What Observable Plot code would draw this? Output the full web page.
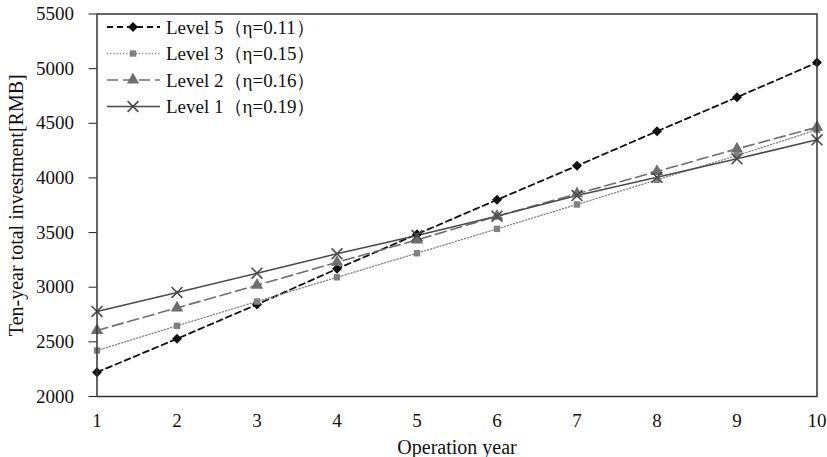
<!DOCTYPE html>
<html>
<head>
<meta charset="utf-8">
<script src="https://cdn.jsdelivr.net/npm/d3@7"></script>
<script src="https://cdn.jsdelivr.net/npm/@observablehq/plot@0.6"></script>
<style>
  html, body { margin: 0; padding: 0; background: #fff; }
  #wrap { position: relative; width: 827px; height: 457px; }
  #legend { position: absolute; left: 0; top: 0; pointer-events: none; }
  #wrap svg g[aria-label="y-axis label"] text, #wrap svg g[aria-label="x-axis label"] text { font-size: 20px; }
</style>
</head>
<body>
<div id="wrap"></div>
<script>
// ---- data ----
const years = [1, 2, 3, 4, 5, 6, 7, 8, 9, 10];
const seriesNames = ["Level 5（η=0.11）", "Level 3（η=0.15）", "Level 2（η=0.16）", "Level 1（η=0.19）"];
const level5 = [2222, 2528, 2842, 3168, 3485, 3800, 4111, 4427, 4738, 5056];
const level3 = [2421, 2647, 2869, 3091, 3311, 3534, 3757, 3983, 4205, 4440];
const level2 = [2604, 2811, 3018, 3228, 3433, 3650, 3855, 4059, 4266, 4464];
const level1 = [2778, 2952, 3128, 3306, 3473, 3650, 3839, 4006, 4175, 4349];
const yTicks = [2000, 2500, 3000, 3500, 4000, 4500, 5000, 5500];
const xTicks = years;

const seriesValues = [level5, level3, level2, level1];

// ---- styles ----
const styles = [
  {stroke: "#111111", fill: "#111111", dash: "6,4", width: 1.8, symbol: "diamond2", d3sym: d3.symbolDiamond2, r: 4.5, symStroke: false},
  {stroke: "#808080", fill: "#808080", dash: "1.2,2", width: 1.3, symbol: "square", d3sym: d3.symbolSquare, r: 3.6, symStroke: false},
  {stroke: "#6e6e6e", fill: "#6e6e6e", dash: "11,5", width: 1.6, symbol: "triangle", d3sym: d3.symbolTriangle, r: 4.6, symStroke: false},
  {stroke: "#4a4a4a", fill: "none", dash: null, width: 1.5, symbol: "times", d3sym: d3.symbolTimes, r: 5, symStroke: true}
];

const rows = [];
seriesNames.forEach((name, i) => {
  years.forEach((yr, j) => rows.push({series: name, idx: i, year: yr, value: seriesValues[i][j]}));
});

const marks = [];
seriesNames.forEach((name, i) => {
  const s = styles[i];
  const data = rows.filter(d => d.idx === i);
  marks.push(Plot.line(data, {x: "year", y: "value", stroke: s.stroke, strokeWidth: s.width, strokeDasharray: s.dash || undefined}));
});
seriesNames.forEach((name, i) => {
  const s = styles[i];
  const data = rows.filter(d => d.idx === i);
  marks.push(Plot.dot(data, s.symStroke
    ? {x: "year", y: "value", symbol: () => s.symbol, r: s.r, stroke: s.stroke, strokeWidth: 1.6, fill: "none"}
    : {x: "year", y: "value", symbol: () => s.symbol, r: s.r, fill: s.fill, stroke: "none"}));
});

const ML = 96.5, MR = 10.5, MT = 13.5, MB = 61;

const chart = Plot.plot({
  width: 827,
  height: 457,
  marginLeft: ML,
  marginRight: MR,
  marginTop: MT,
  marginBottom: MB,
  style: {fontFamily: "'Liberation Serif', 'Times New Roman', serif", fontSize: "19px", color: "#111", background: "#fff"},
  x: {domain: [1, 10]},
  y: {domain: [2000, 5500]},
  symbol: {type: "identity"},
  marks: [
    Plot.axisY({ticks: yTicks, tickSize: 8, tickPadding: 15, tickFormat: d => String(d), stroke: "#222",
      label: "Ten-year total investment[RMB]", labelAnchor: "center", labelArrow: "none", labelOffset: 88, fontSize: 19}),
    Plot.axisX({ticks: xTicks, tickSize: 0, tickPadding: 17, tickFormat: d => String(d),
      label: "Operation year", labelAnchor: "center", labelArrow: "none", labelOffset: 57, fontSize: 19}),
    ...marks,
    Plot.frame({stroke: "#333", strokeWidth: 1.5})
  ]
});

const wrap = document.getElementById("wrap");
wrap.appendChild(chart);

// ---- legend (overlay) ----
const leg = d3.select(wrap).append("svg")
  .attr("id", "legend")
  .attr("width", 827).attr("height", 457);
const rowY = [27, 53.5, 80, 106.5];
seriesNames.forEach((name, i) => {
  const s = styles[i];
  const g = leg.append("g").attr("transform", `translate(0,${rowY[i]})`);
  g.append("line").attr("x1", 107).attr("x2", 160).attr("y1", 0).attr("y2", 0)
    .attr("stroke", s.stroke).attr("stroke-width", s.width)
    .attr("stroke-dasharray", s.dash || null);
  const area = Math.PI * s.r * s.r;
  const p = g.append("path").attr("transform", "translate(133,0)")
    .attr("d", d3.symbol(s.d3sym, area)());
  if (s.symStroke) p.attr("fill", "none").attr("stroke", s.stroke).attr("stroke-width", 1.6);
  else p.attr("fill", s.fill);
  g.append("text").attr("x", 166).attr("y", 0).attr("dy", "0.35em")
    .attr("font-family", "'Liberation Serif', 'Times New Roman', serif")
    .attr("font-size", 19).attr("fill", "#111").text(name);
});
</script>
</body>
</html>
